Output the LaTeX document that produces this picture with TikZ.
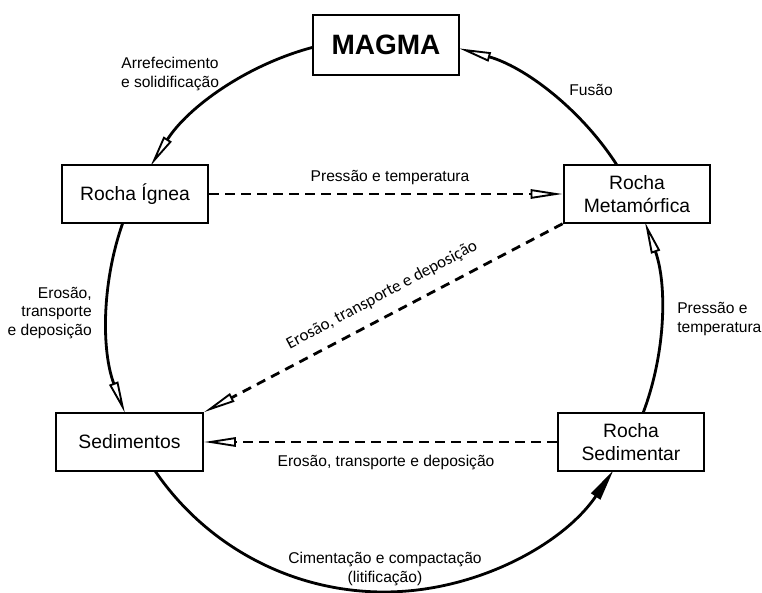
\documentclass[tikz,border=0pt]{standalone}
\usepackage{fontspec}
\setmainfont{Liberation Sans}
\newfontfamily\calibfont{Carlito}
\usetikzlibrary{arrows.meta}
\begin{document}
\begin{tikzpicture}[x=0.75pt,y=0.75pt,
  rock/.style={draw, line width=1.6pt, fill=white, minimum width=110pt,
    minimum height=43pt, inner sep=0pt, align=center,
    font=\fontsize{14.5}{17}\selectfont},
  lbl/.style={font=\fontsize{11.7}{14}\selectfont, inner sep=0pt},
  cyc/.style={line width=2.1pt},
  opentip/.style={-{Triangle[open,length=24pt,width=7pt,line width=1.4pt]}},
  filltip/.style={-{Triangle[length=24pt,width=8pt]}},
  dashy/.style={line width=2.1pt, dash pattern=on 7pt off 5pt},
]
\useasboundingbox (0,0) rectangle (762,592);

% centre of the rock cycle
\coordinate (c) at (384,277);

% cycle arcs (counter-clockwise)
\draw[cyc,opentip] ([shift={(104.85:277)}]c) arc[start angle=104.85, end angle=147.46, radius=277];
\draw[cyc,opentip] ([shift={(160.6:277)}]c) arc[start angle=160.6, end angle=200.72, radius=277];
\draw[cyc,filltip] ([shift={(214.28:277)}]c) arc[start angle=214.28, end angle=325.97, radius=277];
\draw[cyc,opentip] ([shift={(-20.72:277)}]c) arc[start angle=-20.72, end angle=19.62, radius=277];
\draw[cyc,opentip] ([shift={(32.79:277)}]c) arc[start angle=32.79, end angle=74.29, radius=277];

% rocks
\node[rock, minimum height=45pt, font=\fontsize{21}{24}\selectfont\bfseries] (magma) at (386,547) {MAGMA};
\node[rock] (ign) at (135,398) {Rocha Ígnea};
\node[rock] (meta) at (637,398) {Rocha\\Metamórfica};
\node[rock] (sed) at (129.5,150) {Sedimentos};
\node[rock] (sdr) at (631,150) {Rocha\\Sedimentar};

% shortcuts
\draw[dashy,opentip] (ign.east) -- (meta.west);
\draw[dashy,opentip] (meta.south west) -- (sed.north east);
\draw[dashy,opentip] (sdr.west) -- (sed.east);

% labels
\node[lbl] (lfus) at (591,502) {Fusão};
\node[lbl, align=center] (larr) at (170,518) {Arrefecimento\\e solidificação};
\node[lbl, align=right, anchor=east] (lero) at (92,279) {Erosão,\\transporte\\e deposição};
\node[lbl, align=left, anchor=west] (lpre) at (677,273) {Pressão e\\temperatura};
\node[lbl, align=center] (lcim) at (385,23) {Cimentação e compactação\\(litificação)};
\node[lbl] (lpt) at (390,414) {Pressão e temperatura};
\node[lbl] (lero2) at (386,129) {Erosão, transporte e deposição};
\node[inner sep=0pt, rotate=28, font=\calibfont\fontsize{12.75}{15}\selectfont] (ldia) at (382,297) {Erosão, transporte e deposição};
\end{tikzpicture}
\end{document}
